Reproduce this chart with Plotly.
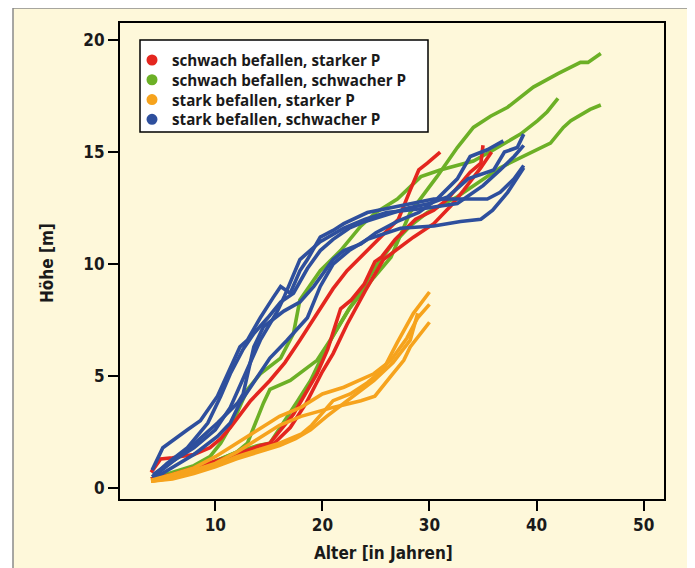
import plotly.graph_objects as go

# ---------------- data ----------------
group_names = ["schwach befallen, starker P", "schwach befallen, schwacher P",
               "stark befallen, starker P", "stark befallen, schwacher P"]
group_colors = ["#E4261F", "#6CB026", "#F6A31D", "#2E4F9D"]

x_ticks = [10, 20, 30, 40, 50]
y_ticks = [0, 5, 10, 15, 20]

# schwach befallen, starker P (red)
red1_x = [4.0, 4.9, 6, 8, 9.5, 10.5, 11.4, 13.3, 15.1, 16.5, 17.9, 19.8, 21, 22.3, 24.2, 25.5, 27.1, 28.2, 29, 29.8, 31]
red1_y = [0.7, 1.3, 1.35, 1.5, 1.8, 2.2, 2.7, 3.9, 4.8, 5.6, 6.6, 8.0, 8.9, 9.7, 10.6, 11.2, 12.0, 13.3, 14.2, 14.5, 15.0]
red2_x = [4, 6, 8, 10, 12, 14.2, 15.1, 17.3, 19.5, 20.5, 21.7, 22.7, 23.9, 24.9, 25.5, 26.8, 28.7, 30.4, 31.7, 33.8, 34.8, 35]
red2_y = [0.4, 0.6, 0.9, 1.2, 1.5, 1.9, 2.0, 3.3, 5.1, 6.2, 8.0, 8.4, 9.1, 10.1, 10.3, 11.1, 12.0, 12.4, 12.9, 14.1, 14.5, 15.3]
red3_x = [4, 6, 8, 10, 12, 14, 15.5, 17, 18.5, 20, 21, 22.3, 24, 25.7, 28.5, 30.4, 32, 33.2, 34.8, 35.8]
red3_y = [0.4, 0.55, 0.8, 1.1, 1.4, 1.7, 2.0, 2.7, 3.8, 5.2, 6.0, 7.3, 8.8, 10.2, 11.2, 11.8, 12.6, 13.3, 14.3, 15.0]

# schwach befallen, schwacher P (green)
green1_x = [4, 6, 8, 9.5, 10.5, 11.7, 13, 14.2, 16.1, 17.3, 17.9, 19.8, 21.7, 23.6, 25, 27, 29.2, 31, 34.1, 36, 38.5, 40.1, 41, 42]
green1_y = [0.4, 0.7, 1.0, 1.4, 2.0, 3.0, 4.4, 5.1, 5.8, 6.9, 8.4, 9.7, 10.6, 11.7, 12.3, 12.9, 13.9, 14.2, 14.6, 15.1, 15.8, 16.4, 16.8, 17.4]
green2_x = [4, 6, 8, 10, 12, 13, 14, 14.5, 15.1, 17, 19.5, 21, 22.5, 24.8, 26.4, 28.2, 30.7, 32.6, 34.1, 35.7, 37.3, 39.7, 42, 44.1, 44.8, 46]
green2_y = [0.4, 0.6, 0.9, 1.2, 1.6, 2.0, 3.2, 3.8, 4.4, 4.8, 5.7, 6.8, 8.0, 9.4, 10.3, 12.3, 13.9, 15.2, 16.1, 16.6, 17.0, 17.9, 18.5, 19.0, 19.0, 19.4]
green3_x = [4, 6, 8, 10, 12, 14, 15.1, 16.5, 17.7, 18.9, 19.8, 21, 22.5, 23.6, 25, 26.4, 28.2, 29.8, 32.6, 36.6, 40, 41.3, 42.5, 43.2, 45, 46]
green3_y = [0.4, 0.6, 0.85, 1.2, 1.6, 1.9, 2.0, 3.0, 3.9, 4.8, 5.7, 6.8, 8.0, 8.8, 9.9, 10.8, 11.7, 12.3, 13.0, 14.3, 15.1, 15.4, 16.1, 16.4, 16.9, 17.1]

# stark befallen, starker P (orange)
orange1_x = [4, 6, 8, 10, 12, 14, 16, 18, 20, 22, 23.8, 24.8, 26.4, 27.9, 28.9, 30]
orange1_y = [0.35, 0.6, 0.9, 1.4, 2.0, 2.6, 3.2, 3.6, 4.2, 4.5, 4.9, 5.1, 5.7, 6.7, 7.6, 8.2]
orange2_x = [4, 6, 8, 10, 12, 14, 16, 18, 19.5, 21, 23.6, 24.9, 26.4, 27.6, 28.2, 30]
orange2_y = [0.3, 0.5, 0.8, 1.1, 1.6, 2.2, 2.8, 3.2, 3.4, 3.6, 3.9, 4.1, 5.0, 5.7, 6.3, 7.4]
orange3_x = [4, 6, 8, 10, 12, 14, 16, 18, 19, 21, 22.6, 24.2, 25.7, 27, 28.5, 30]
orange3_y = [0.3, 0.45, 0.7, 1.0, 1.4, 1.7, 2.0, 2.4, 2.8, 3.9, 4.2, 4.7, 5.3, 6.5, 7.8, 8.75]
orange4_x = [4, 6, 8, 10, 12, 14, 16, 17.5, 18.9, 20.4, 22.9, 24.8, 26.6, 28.2, 28.9]
orange4_y = [0.3, 0.4, 0.65, 0.95, 1.3, 1.6, 1.9, 2.2, 2.6, 3.2, 4.1, 4.8, 5.6, 6.6, 7.8]

# stark befallen, schwacher P (blue)
blue1_x = [4.1, 5.1, 7.4, 8.6, 10.2, 11.4, 12.3, 13, 14.2, 15.4, 16.1, 17, 17.9, 18.6, 19.8, 21, 22, 24.2, 27.3, 30.4, 32.9, 35.4, 36.6, 37.9, 38.8]
blue1_y = [0.8, 1.8, 2.6, 3.0, 4.1, 5.4, 6.3, 6.6, 7.6, 8.5, 9.0, 8.7, 9.7, 10.2, 11.2, 11.5, 11.8, 12.3, 12.6, 12.9, 12.9, 12.9, 13.2, 13.8, 14.4]
blue2_x = [4.1, 5.5, 7.4, 9.3, 10.5, 11.4, 12.6, 13.6, 14.9, 16.1, 17.3, 18.6, 19.8, 21, 22.5, 24, 26, 28, 30, 31.7, 33.6, 34.8, 36, 37, 38.2, 38.8]
blue2_y = [0.5, 1.1, 1.8, 2.9, 4.1, 5.1, 6.2, 6.9, 7.6, 8.3, 8.7, 9.8, 10.6, 11.1, 11.6, 11.9, 12.2, 12.5, 12.7, 13.0, 13.8, 14.0, 14.2, 15.0, 15.2, 15.8]
blue3_x = [4.2, 7.4, 10.2, 12.1, 12.6, 13.6, 14.5, 16.4, 17.9, 19.2, 21, 22, 23.6, 25, 27, 29, 30.7, 32.6, 33.8, 35.4, 36.9]
blue3_y = [0.5, 1.7, 2.9, 3.8, 4.2, 6.3, 7.2, 7.9, 8.3, 9.0, 10.2, 10.6, 10.9, 11.4, 11.9, 12.3, 12.9, 13.8, 14.8, 15.1, 15.5]
blue4_x = [4.2, 6, 8, 10.2, 11.4, 12.3, 13.6, 15.1, 16.7, 18.6, 19.8, 21, 22.5, 24.2, 27.3, 30.4, 32.9, 34.8, 35.9, 37.3, 38.8]
blue4_y = [0.4, 0.9, 1.5, 2.3, 2.9, 3.8, 4.7, 5.8, 6.6, 7.6, 9.0, 10.0, 10.6, 11.1, 11.6, 11.7, 11.9, 12.0, 12.4, 13.2, 14.3]
blue5_x = [4.2, 6, 8, 10, 11.4, 13.3, 14.2, 15.8, 16.4, 17.9, 19.8, 22, 24, 26, 28.2, 29.8, 32.6, 35, 36.6, 37.9, 38.8]
blue5_y = [0.6, 1.2, 1.8, 2.6, 3.6, 5.7, 6.6, 7.9, 8.5, 10.2, 11.0, 11.6, 12.0, 12.3, 12.4, 12.5, 12.7, 13.5, 14.2, 14.8, 15.3]

series = [
    (1, [(green1_x, green1_y), (green2_x, green2_y), (green3_x, green3_y)]),
    (0, [(red1_x, red1_y), (red2_x, red2_y), (red3_x, red3_y)]),
    (3, [(blue1_x, blue1_y), (blue2_x, blue2_y), (blue3_x, blue3_y), (blue4_x, blue4_y), (blue5_x, blue5_y)]),
    (2, [(orange1_x, orange1_y), (orange2_x, orange2_y), (orange3_x, orange3_y), (orange4_x, orange4_y)]),
]

# ---------------- figure ----------------
OFF = 8  # default page body margin
W, H = 695 - OFF, 568 - OFF
L, R, T, B = 120 - OFF, 664 - OFF, 23 - OFF, 499 - OFF  # plot area in figure pixels
pw, ph = R - L, B - T


def px(x):  # page pixel -> paper x
    return (x - OFF - L) / pw


def py(y):  # page pixel -> paper y
    return (B - (y - OFF)) / ph


fig = go.Figure()

for gi, lines in series:
    for xs, ys in lines:
        fig.add_trace(go.Scatter(x=xs, y=ys, mode="lines", name=group_names[gi],
                                 legendgroup=group_names[gi],
                                 line=dict(color=group_colors[gi], width=3.6),
                                 showlegend=False, hoverinfo="skip"))

axis_font = dict(family="Liberation Sans Narrow, DejaVu Sans Condensed, Arial Narrow, sans-serif",
                 size=17, color="#1a1a1a", weight="bold")
LEG_SIZE = 15.2
legend_font = dict(family="Open Sans, sans-serif", size=LEG_SIZE, color="#1a1a1a", weight="bold")

shapes = [
    dict(type="rect", xref="paper", yref="paper", layer="below",
         x0=px(13), x1=px(720), y0=py(590), y1=py(8),
         fillcolor="#FEF8DA", line=dict(color="#8a8a8a", width=1.5)),
    dict(type="rect", xref="paper", yref="paper", layer="above",
         x0=px(140), x1=px(428), y0=py(132), y1=py(40),
         fillcolor="white", line=dict(color="black", width=1.5)),
]
annotations = [
    dict(text="Alter [in Jahren]", xref="paper", yref="paper", x=px(383), y=py(553),
         xanchor="center", yanchor="middle", showarrow=False, font=axis_font),
    dict(text="Höhe [m]", xref="paper", yref="paper", x=px(47), y=py(263),
         xanchor="center", yanchor="middle", showarrow=False, textangle=-90, font=axis_font),
]

# legend (drawn manually: one multi-line text block plus colour dots)
pitch = LEG_SIZE * 1.3
first_row = 60
row_y = [first_row + i * pitch for i in range(len(group_names))]
for gi in range(len(group_names)):
    cy = row_y[gi]
    shapes.append(dict(type="circle", xref="paper", yref="paper", layer="above",
                       x0=px(146.5), x1=px(157.5), y0=py(cy + 5.5), y1=py(cy - 5.5),
                       fillcolor=group_colors[gi], line=dict(width=0)))
annotations.append(dict(text="<br>".join(group_names), xref="paper", yref="paper",
                        x=px(171), y=py((row_y[0] + row_y[-1]) / 2),
                        xanchor="left", yanchor="middle", align="left",
                        showarrow=False, borderpad=0, font=legend_font))

fig.update_layout(
    width=W, height=H,
    margin=dict(l=L, r=W - R, t=T, b=H - B, autoexpand=False),
    paper_bgcolor="white",
    plot_bgcolor="white",
    showlegend=False,
    xaxis=dict(range=[1.1, 51.9], tickvals=x_ticks, ticktext=[str(v) for v in x_ticks],
               showgrid=False, zeroline=False, showline=True, linecolor="black", linewidth=2,
               mirror=True, ticks="outside", ticklen=10, tickwidth=2, tickcolor="black",
               tickfont=axis_font),
    yaxis=dict(range=[-0.49, 20.76], tickvals=y_ticks, ticktext=[str(v) for v in y_ticks],
               showgrid=False, zeroline=False, showline=True, linecolor="black", linewidth=2,
               mirror=True, ticks="outside", ticklen=10, tickwidth=2, tickcolor="black",
               tickfont=axis_font),
    shapes=shapes,
    annotations=annotations,
)

fig.write_html("out.html")
